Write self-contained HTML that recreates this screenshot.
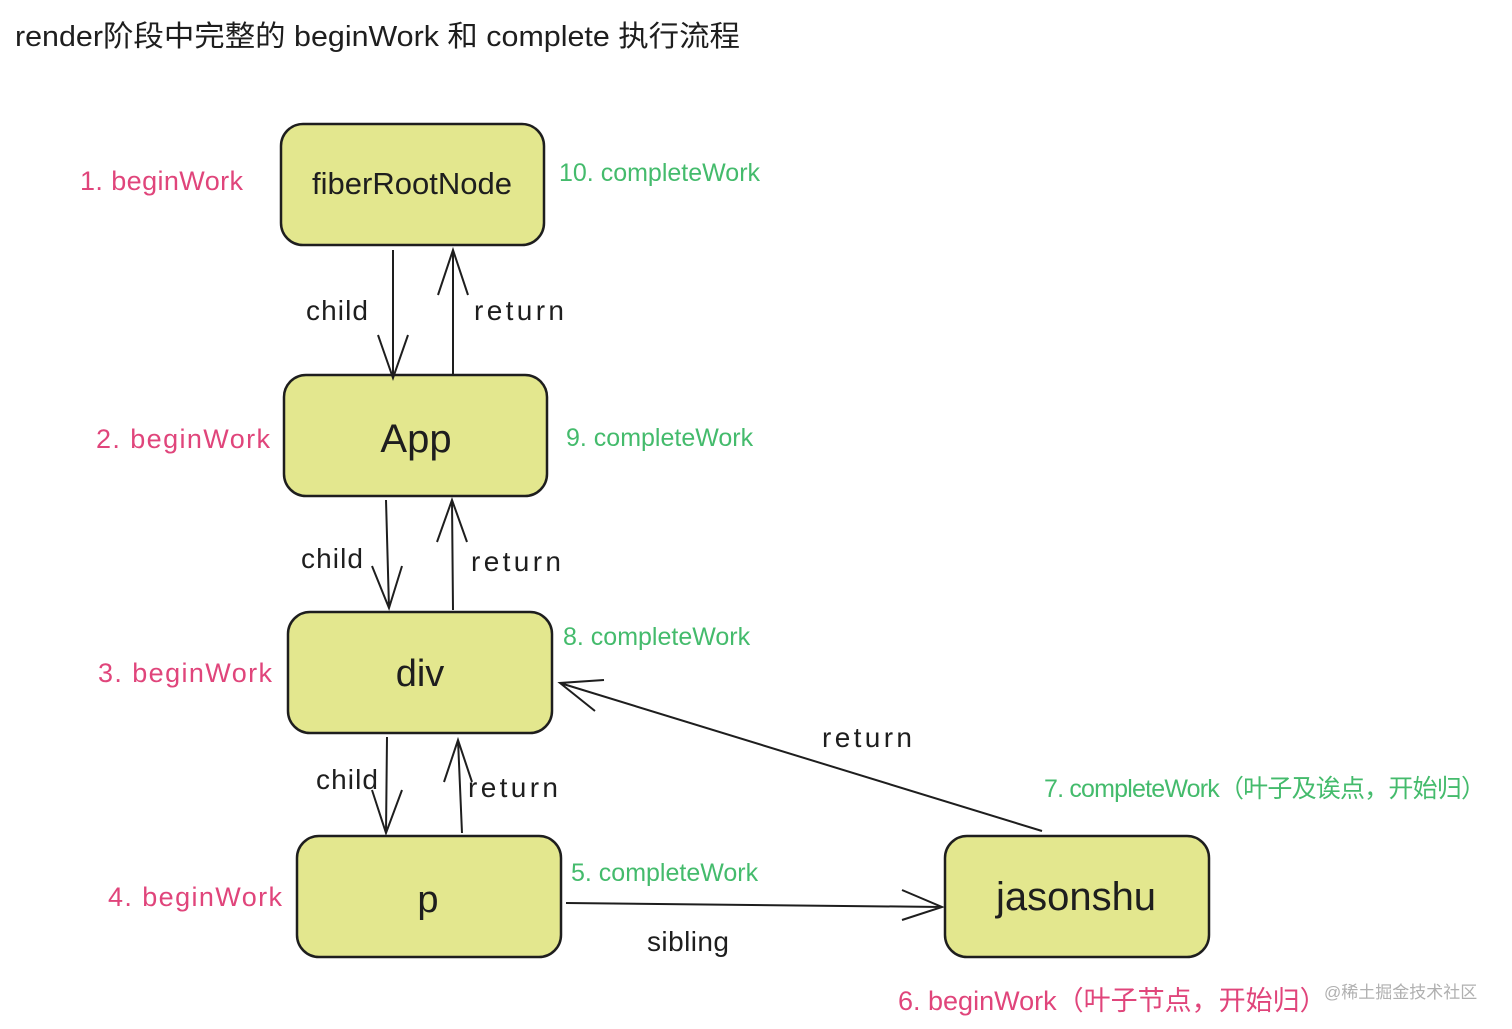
<!DOCTYPE html>
<html><head><meta charset="utf-8"><style>
html,body{margin:0;padding:0;background:#fff;width:1512px;height:1029px;overflow:hidden}
svg text{font-family:"Liberation Sans","Noto Sans CJK SC",sans-serif}
</style></head><body>
<svg width="1512" height="1029" viewBox="0 0 1512 1029" xmlns="http://www.w3.org/2000/svg">
<g fill="#e3e78e" stroke="#1e1e1e" stroke-width="2.5">
<rect x="281" y="124" width="263" height="121" rx="22"/>
<rect x="284" y="375" width="263" height="121" rx="22"/>
<rect x="288" y="612" width="264" height="121" rx="22"/>
<rect x="297" y="836" width="264" height="121" rx="22"/>
<rect x="945" y="836" width="264" height="121" rx="22"/>
</g>
<g stroke="#1e1e1e" stroke-width="2" fill="none">
<path d="M393 250 L393 378 M378 335 L393 378 L408 335"/>
<path d="M453 375 L453 250 M438 295 L453 250 L468 295"/>
<path d="M386 500 L389 608 M372 566 L389 608 L402 566"/>
<path d="M453 610 L452 500 M437 542 L452 500 L467 542"/>
<path d="M387 737 L386 833 M372 790 L386 833 L402 790"/>
<path d="M462 833 L458 740 M444 782 L458 740 L472 782"/>
<path d="M566 903 L942 907 M902 890 L942 907 L902 920"/>
<path d="M1042 831 L560 683 M604 680 L560 683 L595 711"/>
</g>
<g font-size="28" fill="#1e1e1e">
<text x="15" y="46" font-size="29" textLength="725" lengthAdjust="spacingAndGlyphs">render阶段中完整的 beginWork 和 complete 执行流程</text>
<text x="412" y="194" text-anchor="middle" font-size="31">fiberRootNode</text>
<text x="416" y="452" text-anchor="middle" font-size="40">App</text>
<text x="420" y="686" text-anchor="middle" font-size="38">div</text>
<text x="428" y="912" text-anchor="middle" font-size="38">p</text>
<text x="1076" y="910" text-anchor="middle" font-size="40">jasonshu</text>
<text x="306" y="320" textLength="62">child</text>
<text x="474" y="320" textLength="90">return</text>
<text x="301" y="568" textLength="62">child</text>
<text x="471" y="571" textLength="90">return</text>
<text x="316" y="789" textLength="62">child</text>
<text x="468" y="797" textLength="90">return</text>
<text x="822" y="747" textLength="90">return</text>
<text x="647" y="951" textLength="82">sibling</text>
</g>
<g font-size="27" fill="#e0457b">
<text x="80" y="190" textLength="163">1. beginWork</text>
<text x="96" y="448" textLength="174">2. beginWork</text>
<text x="98" y="682" textLength="174">3. beginWork</text>
<text x="108" y="906" textLength="174">4. beginWork</text>
<text x="898" y="1010">6. beginWork（叶子节点，开始归）</text>
</g>
<g font-size="25" fill="#44bb6c">
<text x="559" y="181">10. completeWork</text>
<text x="566" y="446">9. completeWork</text>
<text x="563" y="645">8. completeWork</text>
<text x="571" y="881">5. completeWork</text>
<text x="1044" y="797" textLength="442">7. completeWork（叶子及诶点，开始归）</text>
</g>
<text x="1324" y="998" font-size="17" fill="#b0b0b0">@稀土掘金技术社区</text>
</svg>
</body></html>
